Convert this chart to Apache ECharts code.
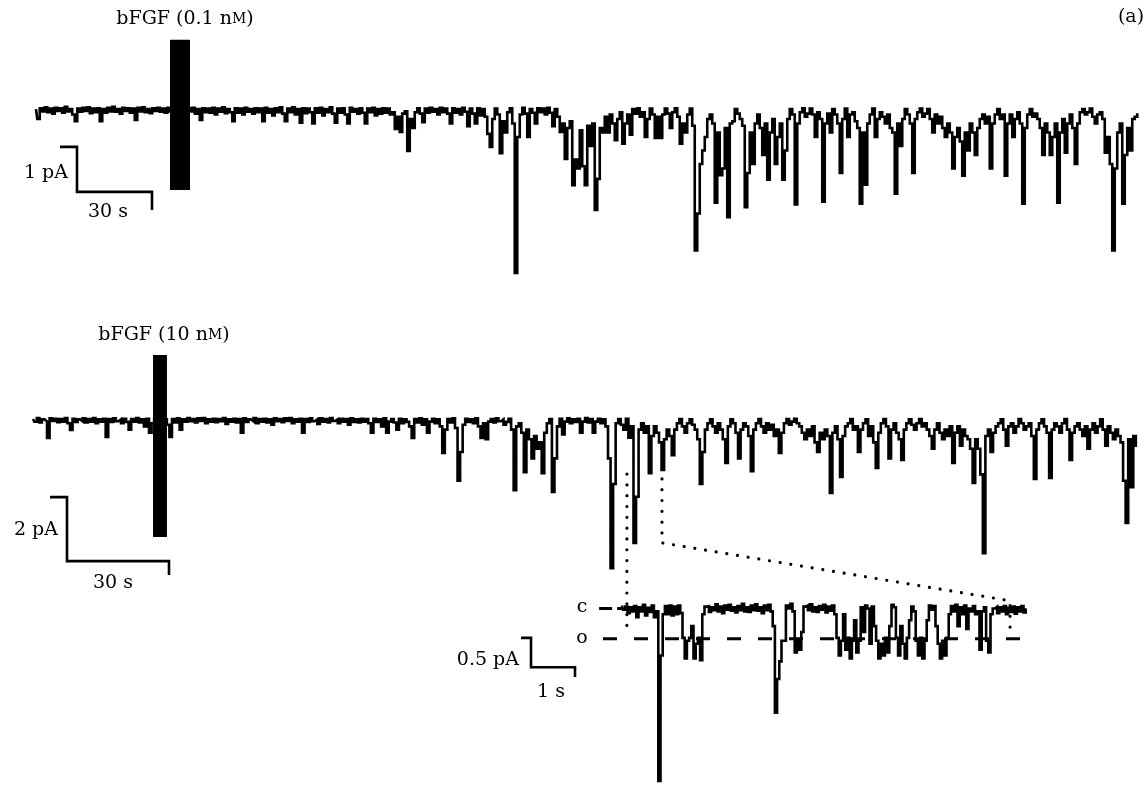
<!DOCTYPE html>
<html><head><meta charset="utf-8">
<script src="https://cdn.jsdelivr.net/npm/echarts@6/dist/echarts.min.js"></script>
<style>html,body{margin:0;padding:0;background:#fff}#c{width:1147px;height:785px}</style>
</head><body><div id="c"></div>
<script>
// ---- data (currents in pA, time in s) ----
const topDt = 1;
const topTrace = [.02,-.2,.04,-.03,.06,-.05,.03,-.08,.05,-.02,
.04,-.06,.07,-.03,.02,-.1,-.25,.03,-.04,.05,
-.02,.06,-.07,.03,-.05,.04,-.25,.02,-.06,.05,
-.03,.07,-.04,.02,-.08,.05,-.02,.04,-.06,.03,
-.22,.05,-.03,.06,-.05,.02,-.07,.04,-.02,.05,
-.04,.03,-.06,.05,-.03,.04,-.05,.02,-.04,.03,
-.06,.04,-.03,.05,-.08,.02,-.22,.04,-.05,.03,
-.06,.05,-.1,.03,-.04,.06,-.07,.02,-.05,-.25,
.04,-.06,.03,-.1,.05,-.04,.02,-.08,.04,-.05,
.03,-.25,.05,-.06,.02,-.12,.04,-.05,.06,-.08,
-.25,.03,-.05,.06,-.1,.02,-.28,.04,-.07,.03,
-.05,-.3,.04,-.06,.05,-.12,.02,-.05,.06,-.08,
-.28,.03,-.06,.04,-.1,-.3,.05,-.04,.02,-.08,
.04,-.06,-.3,.03,-.05,.05,-.12,.02,-.08,.04,
-.06,.03,-.1,-.05,-.42,-.15,-.49,-.08,-.03,-.91,
-.2,-.4,-.05,.04,-.08,-.27,.03,-.06,.05,-.04,
.02,-.1,.05,-.05,.03,-.08,-.3,.04,-.06,.02,
-.1,.05,-.04,-.36,.03,-.08,-.3,.04,-.12,.02,
-.15,-.53,-.82,-.2,.03,-.1,-.96,-.25,-.5,-.05,
.04,-.3,-3.62,-.6,-.1,.05,-.08,-.6,.02,-.06,
-.3,.04,-.05,.03,-.1,.05,-.06,-.36,.02,-.15,
-.49,-.3,-1.09,-.4,-.25,-1.67,-1.1,-1.3,-.45,-1.25,
-1.67,-.35,-.8,-.3,-2.22,-1.53,-.4,-.5,-.15,-.5,
-.1,-.3,-.67,-.2,-.05,-.75,-.3,-.1,-.55,.02,
-.08,.04,-.15,-.05,-.6,-.2,.03,-.1,-.62,-.15,
-.62,-.1,.03,-.08,-.4,-.05,.04,-.15,-.75,-.3,
-.5,-.1,.03,-.35,-3.12,-2.3,-1.2,-.9,-.6,-.2,
-.1,-.3,-2.06,-.5,-1.45,-1.3,-.4,-2.38,-.3,-.25,
.02,-.08,-.2,-.35,-2.16,-1.4,-.5,-1.2,-.3,-.1,
-.4,-1.0,-.3,-1.55,-.5,-.2,-1.2,-.6,-.3,-1.55,
-.9,-.2,.02,-.1,-2.1,-.3,-.05,.04,-.15,-.08,
.03,-.1,-.6,-.05,-.2,-2.04,-.3,-.08,-.5,.02,
-.1,-.3,-1.4,-.2,.03,-.6,-.1,-.05,-.25,-.4,
-2.08,-.5,-1.66,-.3,-.1,.03,-.6,-.2,-.05,-.15,
-.3,-.1,-.4,-.5,-1.86,-.3,-.8,-.2,.02,-.1,
-.3,-1.4,-.2,-.05,.03,-.15,-.08,.02,-.2,-.5,
-.1,-.3,-.15,-.4,-.6,-.3,-.5,-1.3,-.6,-.4,
-.7,-1.46,-.5,-.9,-.3,-.5,-1.0,-.4,-.2,-.1,
-.3,-.15,-1.3,-.3,-.1,.02,-.2,-.1,-1.46,-.3,
-.1,-.6,-.2,-.05,-.3,-2.08,-.4,-.1,.02,-.15,
-.08,-.2,-.4,-1.0,-.3,-.5,-1.0,-.6,-.3,-2.06,
-.5,-.2,-.95,-.3,-.1,-.4,-1.2,-.3,-.05,.02,
-.1,-.05,.03,-.15,-.3,-.1,-.05,-.2,-.95,-.6,
-1.2,-3.12,-1.3,-.5,-.3,-2.08,-1.0,-.4,-.9,-.2,
-.15,-.1];

const midDt = 0.75;
const midTrace = [.03,-.05,.06,-.08,.02,-.04,-.56,.05,-.03,.04,
-.07,.03,-.05,.06,-.1,-.31,.04,-.06,.02,-.04,
.05,-.08,.03,-.05,.06,-.1,.02,-.05,.04,-.53,
.03,-.06,.05,-.04,.02,-.1,.04,-.06,-.3,.03,
-.05,.06,-.08,.02,-.2,.04,-.4,-.1,.03,-.05,
.04,-.06,.02,-.15,-.53,.03,-.08,.05,-.3,.02,
-.05,.06,-.04,.03,-.08,.05,-.03,.06,-.1,.02,
-.05,.04,-.07,.03,-.04,.06,-.12,.02,-.05,.04,
-.08,.03,-.4,.05,-.06,.02,-.04,.06,-.1,.03,
-.05,.04,-.08,.02,-.15,.05,-.04,.03,-.07,.05,
-.03,.06,-.1,.02,-.05,.04,-.4,.03,-.06,.05,
-.04,.02,-.12,.05,-.05,.03,-.08,.06,-.03,.02,
-.1,.04,-.05,.03,-.15,.05,-.06,.02,-.08,.04,
-.05,.03,-.1,-.4,.04,-.06,.02,-.2,.05,-.4,
-.05,.03,-.08,-.3,.04,-.1,.02,-.06,-.2,-.56,
.03,-.08,.05,-.15,.02,-.4,-.05,.04,-.1,.02,
-.2,-1.03,-.3,.03,-.08,.05,-.25,-1.9,-1.0,-.15,
.04,-.06,.02,-.1,.05,-.2,-.56,-.1,-.6,-.05,
.03,-.08,.05,-.04,.02,-.15,-.06,.04,-.3,-2.19,
-.2,-.1,-.4,-1.63,-.3,-.6,-1.2,-.5,-.9,-.7,
-1.66,-.4,-.1,.03,-2.25,-1.2,-.2,.04,-.45,-.05,
.05,-.1,.02,-.06,.04,-.4,-.05,.06,-.08,.03,
-.4,-.05,.04,-.1,.02,-.2,-1.2,-4.63,-2.0,-.1,
.03,-.15,-.3,.04,-.55,-.2,-3.84,-2.4,-.3,-.1,
-.4,-.2,-1.66,-.5,-.2,-.4,-.7,-1.56,-.6,-.3,
-.5,-1.1,-.3,-.1,.03,-.2,-.4,-.1,.02,-.15,
-.3,-.6,-2.0,-1.0,-.3,-.1,.02,-.2,-.4,-.1,
-.3,-.6,-1.34,-.2,.02,-.1,-.4,-1.2,-.3,-.1,
-.2,-.5,-1.6,-.3,-.1,.03,-.2,-.4,-.1,-.3,
-.15,-.5,-.3,-1.03,-.4,-.1,.03,-.15,-.05,.04,
-.1,-.2,-.4,-.6,-.3,-.5,-.2,-.7,-1.0,-.4,
-.6,-.3,-.5,-2.28,-.4,-.2,-.6,-1.78,-.5,-.2,
-.1,.03,-.3,-.2,-1.0,-.3,-.1,.02,-.5,-.2,
-.7,-1.5,-.4,-.1,.03,-.2,-1.2,-.3,-.1,-.4,
-.6,-1.25,-.3,-.1,.02,-.15,-.3,-.1,.03,-.2,
-.1,-.3,-.5,-.9,-.3,-.1,-.4,-.6,-.3,-.5,
-.2,-1.34,-.4,-.2,-.8,-.3,-.5,-.6,-.9,-1.97,
-.6,-.9,-1.7,-4.16,-.5,-.3,-1.0,-.4,-.2,-.1,
.02,-.3,-.8,-.2,-.1,-.4,-.2,.03,-.1,-.3,
-.2,-.1,-.5,-1.84,-.3,-.1,.02,-.2,-.4,-1.81,
-.3,-.1,-.2,-.4,-.1,.03,-.3,-1.25,-.4,-.2,
-.1,-.3,-.5,-.2,-.9,-.3,-.1,-.4,-.2,.02,
-.3,-.8,-.2,-.4,-.6,-.3,-.5,-.7,-1.9,-3.22,
-.6,-2.1,-.5,-.8];

const insetDt = 0.05;
const insetTrace = [.05,-.02,.03,-.08,.02,-.05,.04,-.15,.02,-.05,
.06,-.12,.01,-.06,.05,-.15,-.05,-2.93,-.8,-.1,
.04,-.1,.05,-.12,.03,-.1,.05,-.08,-.5,-.85,
-.55,-.5,-.3,-.85,-.6,-.5,-.88,-.1,.03,
.04,-.06,.02,-.03,.07,-.05,.03,-.08,.05,-.02,.06,-.04,.02,-.07,.04,-.03,.08,-.05,.02,-.06,.05,-.03,.07,-.04,.02,-.08,.05,-.03,.06,-.05,-.3,
-1.77,-1.2,-.9,-.55,-.55,.05,0,.08,-.05,-.75,-.55,-.7,-.4,.03,
.05,-.03,.07,-.05,.02,-.06,.04,-.02,.06,-.07,.03,-.04,.05,-.1,
-.5,-.8,-.55,-.1,-.7,-.5,-.85,-.55,-.2,-.75,
-.55,.02,-.4,.05,0,-.6,.03,-.3,-.55,-.85,
-.6,-.8,-.5,-.75,-.3,.06,.02,-.5,-.8,-.3,
-.6,-.85,-.5,-.2,.03,-.05,-.55,-.8,-.5,-.85,
-.55,-.2,.05,-.02,.04,-.3,-.6,-.85,-.55,-.8,
-.5,-.1,.04,-.05,.06,-.3,.02,-.1,.05,-.35,
0,-.05,.04,-.1,-.05,-.7,-.05,.02,-.55,-.75,
-.1,0,
.03,-.08,.02,-.05,.04,-.1,.01,-.06,.03,-.09,.02,-.05,.04,-.07,-.02];

// application bars: [t start, t end, top, bottom]
const topApplication = [53.6, 61.6, 1.56, -1.78];
const midApplication = [35.3, 39.4, 2.03, -3.66];
// scale bars (polyline corners, axis units)
const topScale = [[9.6,-0.82],[16.4,-0.82],[16.4,-1.82],[46.4,-1.82],[46.4,-2.22]];
const midScale = [[5.0,-2.41],[10.0,-2.41],[10.0,-4.41],[40.0,-4.41],[40.0,-4.84]];
const insetScale = [[-2.295,-0.5],[-2.068,-0.5],[-2.068,-1.0],[-1.068,-1.0],[-1.068,-1.167]];
// levels in inset: closed (c) and open (o), pA
const closedLevel = 0;
const openLevel = -0.517;
// expanded window of middle trace (s) -> inset span (s)
const zoomFrom = [174.7, 185.0];
const zoomTo = [0.11, 8.82];

const pairs = (arr, dt) => arr.map((v, i) => [i * dt, v]);
const chart = echarts.init(document.getElementById('c'), null, {renderer: 'canvas'});

function appBar(idx, d) {
  return {
    type: 'custom', xAxisIndex: idx, yAxisIndex: idx, z: 10, data: [d],
    renderItem: (p, api) => {
      const a = api.coord([api.value(0), api.value(2)]);
      const b = api.coord([api.value(1), api.value(3)]);
      return {type: 'rect', shape: {x: a[0], y: a[1], width: b[0] - a[0], height: b[1] - a[1]}, style: {fill: '#000'}};
    }
  };
}
function traceSeries(idx, data, w) {
  return {type: 'line', xAxisIndex: idx, yAxisIndex: idx, data, showSymbol: false, symbol: 'none',
    step: 'middle', clip: false, z: 5, lineStyle: {color: '#000', width: w, join: 'miter'}};
}
function scaleSeries(idx, data) {
  return {type: 'line', xAxisIndex: idx, yAxisIndex: idx, data, showSymbol: false, symbol: 'none',
    clip: false, z: 5, lineStyle: {color: '#000', width: 2.6, join: 'miter', cap: 'butt'}};
}

const hidden = {show: false};
chart.setOption({
  animation: false,
  backgroundColor: '#fff',
  grid: [
    {left: 36, top: 20, width: 1104, height: 270},
    {left: 33, top: 340, width: 1107, height: 256},
    {left: 512, top: 579, width: 514.8, height: 210}
  ],
  xAxis: [
    {type: 'value', gridIndex: 0, min: 0, max: 441.6, ...hidden},
    {type: 'value', gridIndex: 1, min: 0, max: 325.6, ...hidden},
    {type: 'value', gridIndex: 2, min: -2.5, max: 9.2, ...hidden}
  ],
  yAxis: [
    {type: 'value', gridIndex: 0, min: -4, max: 2, ...hidden},
    {type: 'value', gridIndex: 1, min: -5.5, max: 2.5, ...hidden},
    {type: 'value', gridIndex: 2, min: -3, max: 0.5, ...hidden}
  ],
  series: [
    traceSeries(0, pairs(topTrace, topDt), 2.6),
    traceSeries(1, pairs(midTrace, midDt), 2.6),
    {type: 'line', xAxisIndex: 2, yAxisIndex: 2, data: [[-0.52, closedLevel], [0, closedLevel]], showSymbol: false, symbol: 'none', clip: false, z: 3,
      lineStyle: {color: '#000', width: 3, type: [13, 5]}},
    {type: 'line', xAxisIndex: 2, yAxisIndex: 2, data: [[-0.432, openLevel], [9.05, openLevel]], showSymbol: false, symbol: 'none', clip: false, z: 3,
      lineStyle: {color: '#000', width: 3, type: [14, 17]}},
    traceSeries(2, pairs(insetTrace, insetDt), 2.6),
    appBar(0, topApplication),
    appBar(1, midApplication),
    scaleSeries(0, topScale),
    scaleSeries(1, midScale),
    scaleSeries(2, insetScale)
  ]
});

const px = (g, p) => chart.convertToPixel({gridIndex: g}, p);
const dot = {stroke: '#000', lineWidth: 3.2, lineDash: [0.01, 10.8], lineCap: 'round', fill: null};
const L1 = [px(1, [zoomFrom[0], -1.69]), px(2, [zoomTo[0], -0.38])];
const R1 = [px(1, [zoomFrom[1], -1.84]), px(1, [zoomFrom[1], -3.84]), px(2, [zoomTo[1], 0.13]), px(2, [zoomTo[1], -0.4])];
const F = 'DejaVu Serif';
const FS = 19;
const txt = (text, x, y, align) => ({type: 'text', z: 20, style: {text, x, y, fill: '#000', font: FS + 'px "' + F + '"', textAlign: align || 'center', textVerticalAlign: 'middle'}});
const richTxt = (pre, x, y) => ({type: 'text', z: 20, style: {text: '{n|' + pre + '}{s|M}{n|)}', x, y, fill: '#000', textAlign: 'center', textVerticalAlign: 'middle',
  rich: {n: {fontFamily: F, fontSize: FS, fill: '#000'}, s: {fontFamily: F, fontSize: 14, fill: '#000'}}}});
chart.setOption({
  graphic: [
    richTxt('bFGF (0.1 n', 185, 19),
    richTxt('bFGF (10 n', 164, 335),
    txt('(a)', 1131, 17),
    txt('1 pA', 68, 173, 'right'),
    txt('30 s', 108, 212),
    txt('2 pA', 58, 530, 'right'),
    txt('30 s', 113, 583),
    txt('0.5 pA', 519, 660, 'right'),
    txt('1 s', 551, 692),
    txt('c', 582, 607),
    txt('o', 582, 638),
    {type: 'polyline', z: 15, shape: {points: L1}, style: dot},
    {type: 'polyline', z: 15, shape: {points: R1}, style: dot}
  ]
});
</script></body></html>
